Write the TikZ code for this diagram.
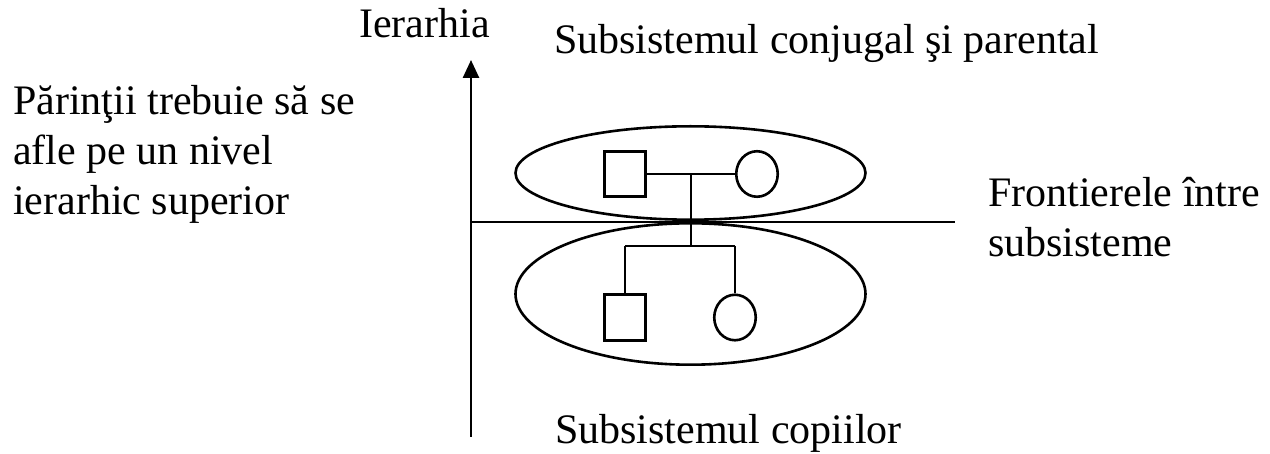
\documentclass[tikz,border=0pt]{standalone}
\usepackage{fontspec}
\setmainfont{Liberation Serif}
\usetikzlibrary{shapes.geometric,arrows.meta}
\tikzset{
  ln/.style={line width=2.6pt, line cap=butt},
  txt/.style={inner sep=0pt, anchor=base west, align=left,
    font=\fontsize{42}{50}\selectfont},
  bigell/.style={ellipse, draw, ln, inner sep=0pt, minimum width=350pt},
  male/.style={rectangle, draw, ln, inner sep=0pt, minimum width=41.5pt, minimum height=45.5pt},
  female/.style={ellipse, draw, ln, inner sep=0pt, minimum width=41.5pt, minimum height=45.5pt},
}
\begin{document}
\begin{tikzpicture}[x=1pt,y=-1pt]
\useasboundingbox (0,0) rectangle (1270,454);
% subsystem ellipses
\node[bigell, minimum height=93.4pt] (upper) at (690.5,173) {};
\node[bigell, minimum height=141.4pt] (lower) at (690.5,294) {};
% axis and boundary
\coordinate (axbot) at (471,437);
\coordinate (axtop) at (471,60);
\coordinate (hl) at (471,222);
\coordinate (hr) at (955,222);
\draw[ln, -{Triangle[width=16pt,length=18pt]}] (axbot) -- (axtop);
\draw[ln] (hl) -- (hr);
% genogram
\node[male] (father) at (625,174) {};
\node[female] (mother) at (757,174) {};
\node[male] (son) at (625,317.5) {};
\node[female] (daughter) at (735,317.5) {};
\coordinate (cm) at (691,174);
\coordinate (cb) at (691,246);
\coordinate (bl) at (625,246);
\coordinate (br) at (735,246);
\draw[ln] (father.east) -- (mother.west);
\draw[ln] (cm) -- (cb);
\draw[ln] (bl) -- (br);
\draw[ln] (bl) -- (son.north);
\draw[ln] (br) -- (daughter.north);
% texts (base anchor of a multi-line node = last line's baseline)
\node[txt] (ier) at (359,38) {Ierarhia};
\node[txt] (conj) at (554,54) {Subsistemul conjugal şi parental};
\node[txt] (par) at (13,215) {Părinţii trebuie să se\\afle pe un nivel\\ierarhic superior};
\node[txt] (front) at (988,257) {Frontierele între\\subsisteme};
\node[txt] (cop) at (555,443) {Subsistemul copiilor};
\end{tikzpicture}
\end{document}
